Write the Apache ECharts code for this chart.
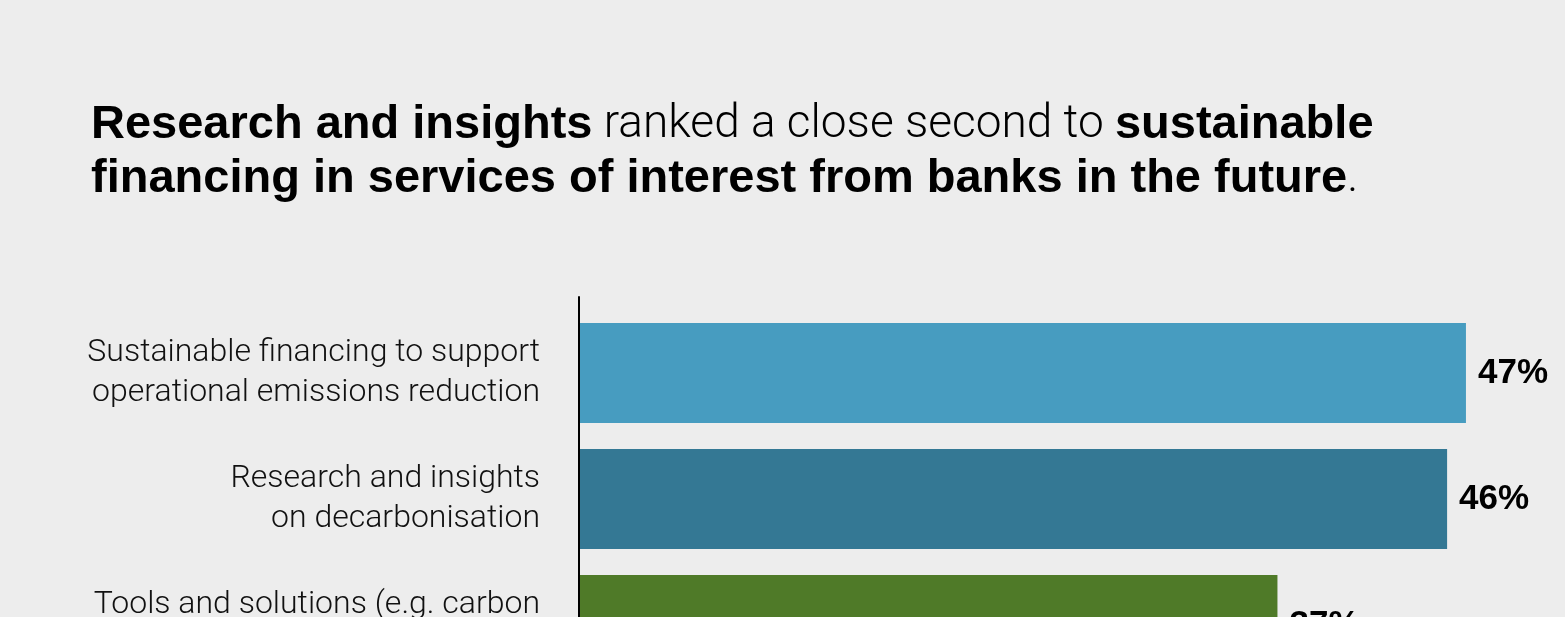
<!DOCTYPE html>
<html>
<head>
<meta charset="utf-8">
<script src="https://cdn.jsdelivr.net/npm/echarts@6/dist/echarts.min.js"></script>
<style>
  html, body { margin: 0; padding: 0; background: #ededed; overflow: hidden; }
  #chart { width: 1565px; height: 760px; }
</style>
</head>
<body>
<div id="chart"></div>
<script>
// Services of interest from banks in the future (share of respondents, %)
const categories = [
  'Sustainable financing to support\noperational emissions reduction',
  'Research and insights\non decarbonisation',
  'Tools and solutions (e.g. carbon\naccounting)'
];
const values = [47, 46, 37];
const barColors = ['#479cc0', '#347894', '#4f7a28'];

const chart = echarts.init(document.getElementById('chart'));

chart.setOption({
  backgroundColor: '#ededed',
  animation: false,
  title: {
    left: 86,
    top: 93,
    text: '{b|Research and insights}{l| ranked a close second to }{b|sustainable}\n' +
          '{b|financing in services of interest from banks in the future}{l|.}',
    textStyle: {
      rich: {
        b: { fontFamily: 'Liberation Sans', fontWeight: 700, fontSize: 47, color: '#000', lineHeight: 54 },
        l: { fontFamily: 'Roboto', fontWeight: 300, fontSize: 46, color: '#000', lineHeight: 54 }
      }
    }
  },
  grid: [
    { left: 580, right: 42.5, top: 310, bottom: 72 },
    { left: 579, right: 42.5, top: 297, bottom: 72 }
  ],
  xAxis: [
    { type: 'value', gridIndex: 0, min: 0, max: 50, show: false },
    { type: 'value', gridIndex: 1, min: 0, max: 50, show: false }
  ],
  yAxis: [
    {
      type: 'category',
      gridIndex: 0,
      inverse: true,
      data: categories,
      axisLine: { show: false },
      axisTick: { show: false },
      axisLabel: {
        margin: 40,
        align: 'right',
        fontFamily: 'Roboto',
        fontWeight: 300,
        fontSize: 32,
        lineHeight: 40,
        color: '#111'
      }
    },
    {
      type: 'value',
      gridIndex: 1,
      min: 0,
      max: 1,
      axisLine: { show: true, lineStyle: { color: '#000', width: 2 } },
      axisTick: { show: false },
      axisLabel: { show: false },
      splitLine: { show: false }
    }
  ],
  series: [{
    type: 'bar',
    xAxisIndex: 0,
    yAxisIndex: 0,
    barWidth: 100,
    data: values.map((v, i) => ({ value: v, itemStyle: { color: barColors[i] } })),
    label: {
      show: true,
      position: 'right',
      distance: 12,
      formatter: '{c}%',
      fontFamily: 'Liberation Sans',
      fontWeight: 'bold',
      fontSize: 35,
      color: '#000'
    }
  }]
});
</script>
</body>
</html>
